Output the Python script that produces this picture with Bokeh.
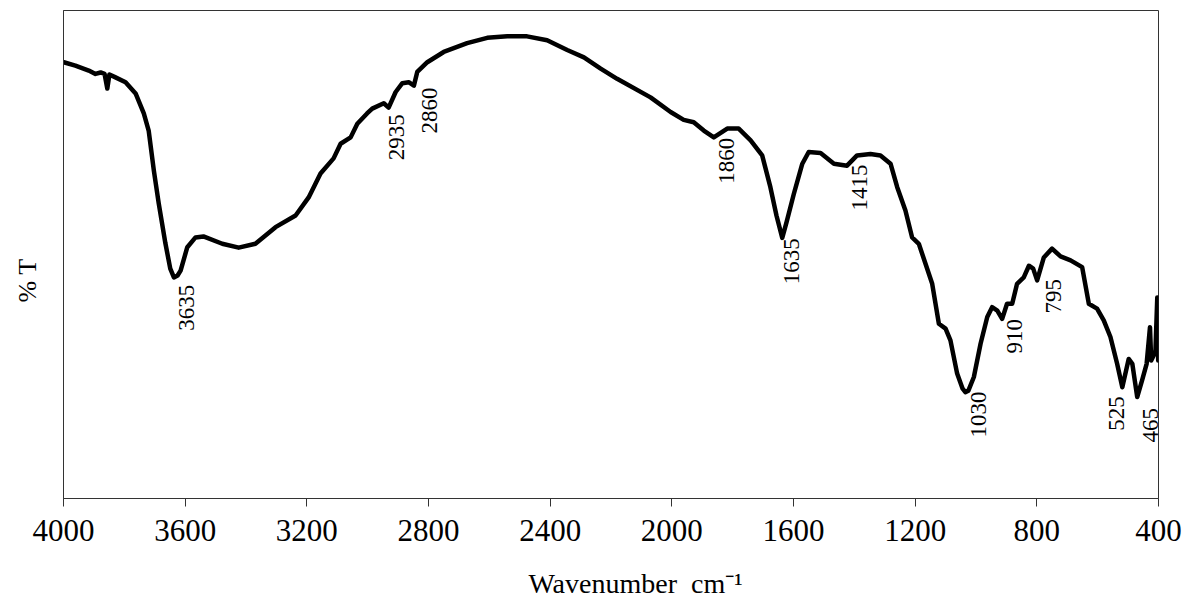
import math
from bokeh.plotting import figure
from bokeh.models import Range1d, FixedTicker, ColumnDataSource
from bokeh.core.properties import value
from bokeh.embed import file_html
from bokeh.resources import INLINE

# ---- data ----
wavenumber = [3999, 3961, 3917, 3895, 3878, 3865, 3856, 3849, 3829, 3796,
              3763, 3736, 3720, 3703, 3687, 3665, 3649, 3637, 3625, 3615,
              3593, 3566, 3540, 3478, 3424, 3369, 3303, 3237, 3194, 3155,
              3112, 3089, 3056, 3034, 3002, 2985, 2947, 2931, 2908, 2886,
              2865, 2848, 2837, 2804, 2750, 2673, 2607, 2541, 2476, 2410,
              2344, 2289, 2234, 2180, 2070, 2004, 1961, 1928, 1895, 1862,
              1818, 1780, 1741, 1703, 1676, 1656, 1637, 1623, 1599, 1571,
              1550, 1511, 1467, 1424, 1391, 1347, 1314, 1281, 1259, 1232,
              1210, 1188, 1166, 1144, 1122, 1100, 1084, 1062, 1044, 1035,
              1025, 1007, 985, 963, 947, 930, 914, 898, 881, 865,
              843, 826, 812, 799, 777, 750, 722, 689, 651, 629,
              602, 580, 558, 536, 519, 498, 486, 470, 454, 439,
              428, 424, 416, 410, 404, 401]
transmittance = [89.4, 88.7, 87.7, 87.0, 87.3, 87.0, 84.0, 86.9, 86.3, 85.3,
                 83.0, 78.9, 75.4, 67.2, 60.5, 52.3, 47.1, 45.3, 45.7, 46.7,
                 51.5, 53.5, 53.7, 52.2, 51.4, 52.2, 55.6, 58.0, 61.7, 66.6,
                 69.7, 72.7, 74.0, 76.8, 78.9, 79.9, 81.0, 80.1, 83.3, 85.1,
                 85.3, 84.6, 87.4, 89.4, 91.5, 93.3, 94.4, 94.7, 94.7, 93.9,
                 91.9, 90.4, 88.1, 86.0, 82.2, 79.2, 77.6, 77.1, 75.4, 74.0,
                 75.8, 75.8, 73.4, 70.3, 63.8, 58.0, 53.4, 56.6, 62.4, 68.6,
                 71.0, 70.8, 68.6, 68.2, 70.3, 70.6, 70.3, 68.6, 63.8, 59.0,
                 53.5, 52.2, 48.1, 44.0, 35.8, 34.8, 32.4, 25.6, 22.5, 21.8,
                 22.1, 24.9, 31.7, 37.2, 39.2, 38.5, 36.8, 39.9, 39.9, 44.0,
                 45.3, 47.7, 47.1, 44.7, 49.4, 51.2, 49.6, 48.8, 47.4, 39.9,
                 38.9, 36.5, 33.1, 27.6, 22.8, 28.6, 27.6, 20.8, 24.2, 27.6,
                 35.1, 28.3, 29.3, 30.3, 41.2, 28.3]
assert len(wavenumber) == len(transmittance)

peak_labels = ["3635", "2935", "2860", "1860", "1635", "1415",
               "1030", "910", "795", "525", "465"]
# where each peak label text starts (bottom of the upright text)
peak_label_wn = [3596, 2904, 2797, 1820, 1607, 1383, 992, 873, 745, 538, 426]
peak_label_t = [34.4, 69.3, 74.8, 64.5, 43.9, 59.0, 12.5, 29.7, 37.9, 13.9, 11.5]

x_ticks = [4000, 3600, 3200, 2800, 2400, 2000, 1600, 1200, 800, 400]
x_tick_labels = [str(t) for t in x_ticks]

NBSP = "\u00a0"
x_title = "Wavenumber" + NBSP * 2 + "cm\u207b\u00b9"
y_title = "% T"

SERIF = "Liberation Serif"

p = figure(width=1190, height=604, output_backend="svg", toolbar_location=None,
           x_range=Range1d(4000, 400), y_range=Range1d(0, 100),
           min_border_left=63, min_border_right=32, min_border_top=10,
           min_border_bottom=106)

p.xgrid.visible = False
p.ygrid.visible = False
p.outline_line_color = "#333333"
p.outline_line_width = 1
p.background_fill_color = "white"
p.border_fill_color = "white"

# x axis
p.xaxis.ticker = FixedTicker(ticks=x_ticks)
p.xaxis.major_label_overrides = {t: l for t, l in zip(x_ticks, x_tick_labels)}
p.xaxis.minor_tick_line_color = None
p.xaxis.major_tick_out = 8
p.xaxis.major_tick_in = 0
p.xaxis.major_tick_line_color = "#333333"
p.xaxis.axis_line_color = "#333333"
p.xaxis.major_label_text_font = SERIF
p.xaxis.major_label_text_font_size = "31px"
p.xaxis.major_label_text_color = "black"
p.xaxis.major_label_standoff = 13
# leading no-break spaces move the centred title right, as in the reference
p.xaxis.axis_label = NBSP * 7 + x_title
p.xaxis.axis_label_text_font = SERIF
p.xaxis.axis_label_text_font_size = "28px"
p.xaxis.axis_label_text_font_style = "normal"
p.xaxis.axis_label_text_color = "black"
p.xaxis.axis_label_standoff = 24

# y axis: no ticks, no tick labels
p.yaxis.ticker = FixedTicker(ticks=[])
p.yaxis.minor_tick_line_color = None
p.yaxis.major_tick_line_color = None
p.yaxis.major_tick_out = 0
p.yaxis.major_label_standoff = 0
p.yaxis.axis_line_color = "#333333"
# trailing no-break spaces move the centred label down, as in the reference
p.yaxis.axis_label = y_title + NBSP * 8
p.yaxis.axis_label_text_font = SERIF
p.yaxis.axis_label_text_font_size = "26px"
p.yaxis.axis_label_text_font_style = "normal"
p.yaxis.axis_label_text_color = "black"
p.yaxis.axis_label_standoff = 22

# spectrum
p.line(wavenumber, transmittance, line_width=4.5, line_color="black",
       line_join="round", line_cap="round")

# peak labels
src = ColumnDataSource(dict(x=peak_label_wn, y=peak_label_t, text=peak_labels))
p.text(x="x", y="y", text="text", source=src, angle=math.pi / 2,
       text_align="left", text_baseline="middle",
       text_font=value(SERIF), text_font_size="23px", text_color="black")

open("out.html", "w").write(file_html(p, INLINE))
